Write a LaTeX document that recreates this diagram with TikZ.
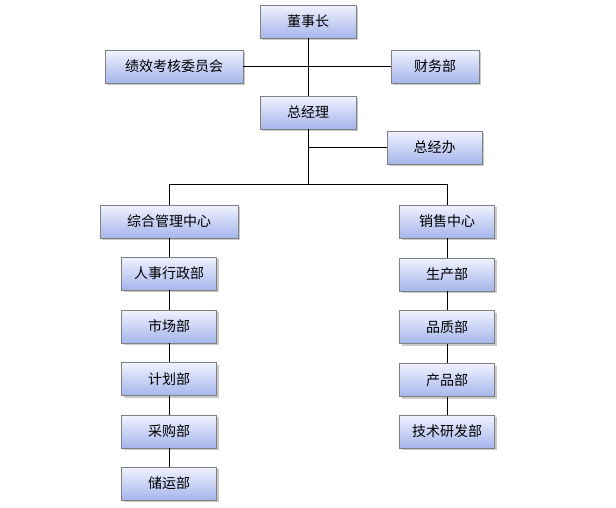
\documentclass[tikz,border=0pt]{standalone}
\usepackage{fontspec}
\newfontfamily\cjk{Noto Sans CJK SC}
\usetikzlibrary{shadows}
\definecolor{bmtop}{HTML}{F0F2FE}
\definecolor{bmbot}{HTML}{A6B6EC}

\begin{document}
\begin{tikzpicture}[x=1pt,y=-1pt,
  bm/.style={draw=black!50,line width=0.7pt,top color=bmtop,bottom color=bmbot,
    minimum height=33pt,inner sep=0pt,font=\cjk\fontsize{14}{16}\selectfont,
    drop shadow={shadow xshift=2pt,shadow yshift=-2pt,fill=black!35,opacity=.6}},
  xian/.style={line width=0.8pt}]
\useasboundingbox (0,0) rectangle (616,507);

\draw (308,21.5)node[bm,minimum width=96pt](dsz){董事长};
\draw (174,66.5)node[bm,minimum width=138pt](jx){绩效考核委员会};
\draw (435,66.5)node[bm,minimum width=88pt](cw){财务部};
\draw (308,112.5)node[bm,minimum width=96pt](zjl){总经理};
\draw (434.5,147.5)node[bm,minimum width=95pt](zjb){总经办};

\draw (169,221.5)node[bm,minimum width=138pt](zh){综合管理中心};
\draw (169,273.5)node[bm,minimum width=95pt](rs){人事行政部};
\draw (169,326.5)node[bm,minimum width=95pt](sc){市场部};
\draw (169,379)node[bm,minimum width=95pt](jh){计划部};
\draw (169,431.5)node[bm,minimum width=95pt](cg){采购部};
\draw (169,483.5)node[bm,minimum width=95pt](cy){储运部};

\draw (447,221.5)node[bm,minimum width=95pt](xs){销售中心};
\draw (447,274.5)node[bm,minimum width=95pt](scb){生产部};
\draw (447,327)node[bm,minimum width=95pt](pz){品质部};
\draw (447,380)node[bm,minimum width=95pt](cp){产品部};
\draw (447,431.5)node[bm,minimum width=95pt](js){技术研发部};

\coordinate (fz) at (308,184);

\draw[xian] (dsz.south)--(zjl.north);
\draw[xian] (jx.east)--(cw.west);
\draw[xian] (zjl.south)--(fz);
\draw[xian] (zjl.south |- zjb.west)--(zjb.west);
\draw[xian] (fz)-|(zh.north);
\draw[xian] (fz)-|(xs.north);

\draw[xian] (zh.south)--(rs.north);
\draw[xian] (rs.south)--(sc.north);
\draw[xian] (sc.south)--(jh.north);
\draw[xian] (jh.south)--(cg.north);
\draw[xian] (cg.south)--(cy.north);

\draw[xian] (xs.south)--(scb.north);
\draw[xian] (scb.south)--(pz.north);
\draw[xian] (pz.south)--(cp.north);
\draw[xian] (cp.south)--(js.north);
\end{tikzpicture}
\end{document}
